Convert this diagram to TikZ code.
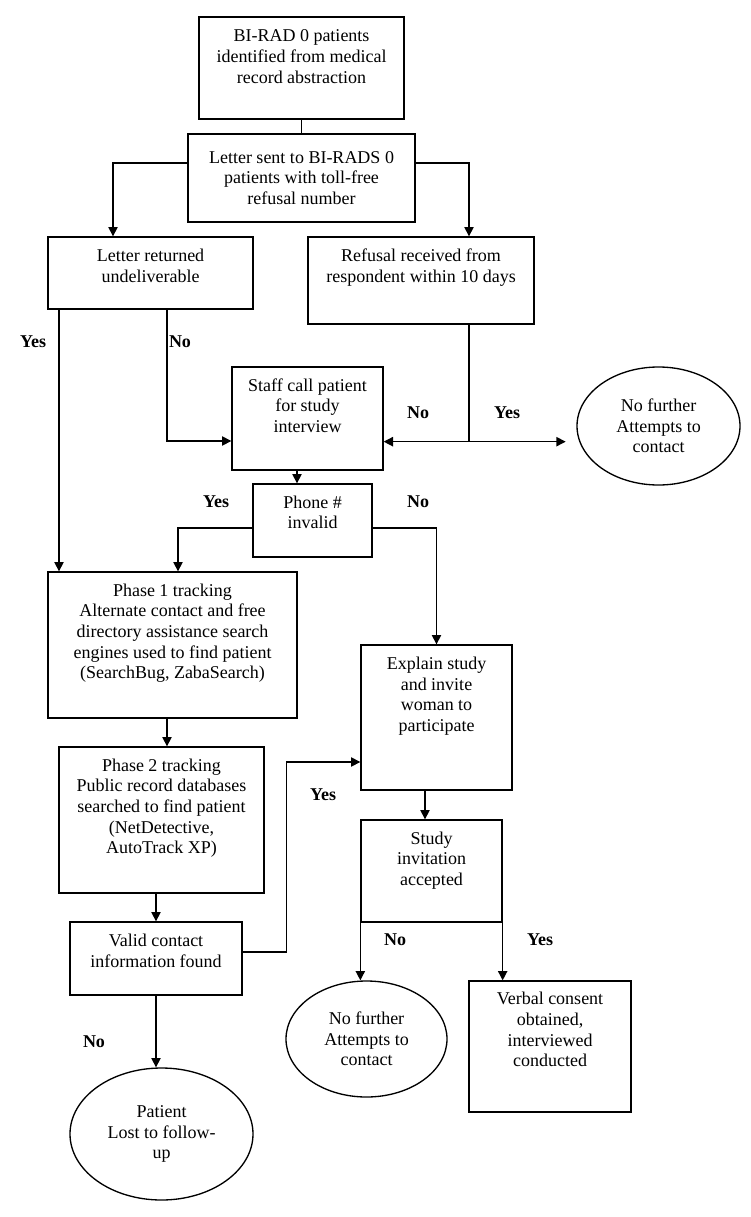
\documentclass[tikz,border=0pt]{standalone}
\usepackage{fontspec}
\setmainfont{Liberation Serif}
\usetikzlibrary{shapes,arrows.meta,positioning,calc}

\tikzset{
  box/.style 2 args={draw, line width=1pt, align=center, minimum width=#1*0.75pt, minimum height=#2*0.75pt, inner sep=2pt},
  oval/.style 2 args={draw, ellipse, line width=1pt, align=center, minimum width=#1*0.75pt, minimum height=#2*0.75pt, inner sep=0pt},
  arr/.style={line width=1pt, -{Triangle[length=7pt,width=7pt]}},
  link/.style={line width=1pt},
  lbl/.style={font=\fontsize{13.5pt}{15.5pt}\selectfont\bfseries}
}

\begin{document}
\begin{tikzpicture}[x=0.75pt, y=-0.75pt, font=\fontsize{13.5pt}{15.5pt}\selectfont]
    \useasboundingbox (0,0) rectangle (750,1217);

    % Letter stage
    \node[box={205}{102}] (birad) at (301.5,68) {BI-RAD 0 patients\\identified from medical\\record abstraction\\[1.5pt]};
    \node[box={227}{88}] (letter) at (301.5,178) {Letter sent to BI-RADS 0\\patients with toll-free\\refusal number};
    \node[box={205}{72}] (returned) at (150.5,273) {Letter returned\\undeliverable\\[-4.5pt]};
    \node[box={226}{87}] (refusal) at (421,280.5) {Refusal received from\\respondent within 10 days\\[7pt]};

    % Phone stage
    \node[box={151}{103}] (staff) at (307.5,418.5) {Staff call patient\\for study\\interview\\[4pt]};
    \node[oval={163}{118}] (stopA) at (658.5,426) {No further\\Attempts to\\contact};
    \node[box={119}{73}] (phone) at (312.5,520.5) {Phone \#\\invalid\\[-3pt]};

    % Tracking
    \node[box={249}{146}] (phaseA) at (172.5,645) {Phase 1 tracking\\Alternate contact and free\\directory assistance search\\engines used to find patient\\(SearchBug, ZabaSearch)\\[5pt]};
    \node[box={205}{146}] (phaseB) at (161.5,820) {Phase 2 tracking\\Public record databases\\searched to find patient\\(NetDetective,\\AutoTrack XP)\\[5pt]};
    \node[box={172}{73}] (valid) at (156,958.5) {Valid contact\\information found\\[-4pt]};
    \node[oval={183}{132}] (lost) at (161.5,1134) {Patient\\Lost to follow-\\up};

    % Invitation
    \node[box={151}{145}] (explain) at (436.5,717.5) {Explain study\\and invite\\woman to\\participate\\[19.5pt]};
    \node[box={141}{102}] (study) at (431.5,871) {Study\\invitation\\accepted\\[3pt]};
    \node[oval={161}{116}] (stopB) at (366.5,1039) {No further\\Attempts to\\contact};
    \node[box={162}{131}] (verbal) at (550,1046.5) {Verbal consent\\obtained,\\interviewed\\conducted\\[10pt]};

    % Connectors
    \draw[link] (birad) -- (letter);
    \draw[arr] ([shift={(0,-15)}]letter.west) -| ([shift={(-37.5,0)}]returned.north);
    \draw[arr] ([shift={(0,-15)}]letter.east) -| ([shift={(48,0)}]refusal.north);
    \draw[arr] ([shift={(-91.5,0)}]returned.south) -- ([shift={(-91.5,0)}]returned.south |- phaseA.north);
    \draw[arr] ([shift={(16.5,0)}]returned.south) |- ([shift={(0,22.5)}]staff.west);
    \coordinate (split) at ([shift={(48,117)}]refusal.south);
    \draw[link] ([shift={(48,0)}]refusal.south) -- (split);
    \draw[arr] (split) -- (split -| staff.east);
    \draw[arr, shorten >=8pt] (split) -- (split -| stopA.west);
    \draw[arr] ([shift={(-10.5,0)}]staff.south) -- ([shift={(-10.5,0)}]staff.south |- phone.north);
    \draw[arr] ([shift={(0,7.5)}]phone.west) -| ([shift={(5.5,0)}]phaseA.north);
    \draw[arr] ([shift={(0,7.5)}]phone.east) -| (explain.north);
    \draw[arr] ([shift={(-5.5,0)}]phaseA.south) -- ([shift={(-5.5,0)}]phaseA.south |- phaseB.north);
    \draw[arr] (valid.north |- phaseB.south) -- (valid.north);
    \draw[arr] ([shift={(0,-6.5)}]valid.east) -- ++(44,0) |- ([shift={(0,44.5)}]explain.west);
    \draw[arr] ([shift={(-11.5,0)}]explain.south) -- ([shift={(-11.5,0)}]explain.south |- study.north);
    \draw[arr] (study.south west) -- (study.south west |- stopB.north);
    \draw[arr] (study.south east) -- (study.south east |- verbal.north);
    \draw[arr] (valid.south) -- (valid.south |- lost.north);

    % Yes / No labels
    \node[lbl] (yesA) at (33,342) {Yes};
    \node[lbl] (noA) at (180,342) {No};
    \node[lbl] (noB) at (418,413) {No};
    \node[lbl] (yesB) at (507,413) {Yes};
    \node[lbl] (yesC) at (216,502) {Yes};
    \node[lbl] (noC) at (418,502) {No};
    \node[lbl] (yesD) at (323,795) {Yes};
    \node[lbl] (noD) at (395,940) {No};
    \node[lbl] (yesE) at (540,940) {Yes};
    \node[lbl] (noE) at (94,1042) {No};
\end{tikzpicture}
\end{document}
